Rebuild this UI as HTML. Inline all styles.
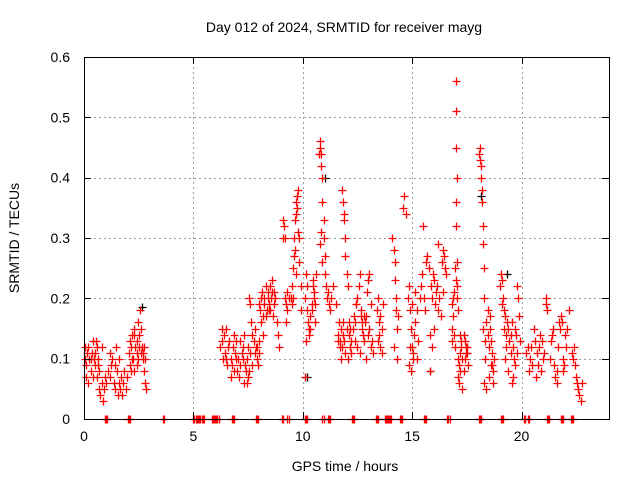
<!DOCTYPE html>
<html><head><meta charset="utf-8"><style>
html,body{margin:0;padding:0;background:#fff}
svg{display:block;font-family:"Liberation Sans",sans-serif}
</style></head><body>
<svg id="chart" width="640" height="480" viewBox="0 0 640 480" xmlns="http://www.w3.org/2000/svg">
<text x="344" y="32" font-size="14" text-anchor="middle">Day 012 of 2024, SRMTID for receiver mayg</text>
<text transform="translate(19,238) rotate(-90)" font-size="14" text-anchor="middle">SRMTID / TECUs</text>
<text x="345" y="471" font-size="14" text-anchor="middle">GPS time / hours</text>
<g id="grid"></g>
<g id="black"></g>
<g id="red"></g>
<g id="axes"></g>
</svg>
<script>
const xTicks=[0,5,10,15,20];
const yTicks=[0,0.1,0.2,0.3,0.4,0.5,0.6];
const yTickLabels=["0","0.1","0.2","0.3","0.4","0.5","0.6"];
const redTimes=[
0.05,0.1,0.15,0.2,0.25,0.3,0.35,0.4,0.45,0.5,
0.05,0.1,0.2,0.3,0.4,0.5,0.55,0.6,0.65,0.7,
0.6,0.7,0.75,0.8,0.85,0.9,0.95,1.0,0.65,0.8,
1.1,1.2,1.25,1.3,1.35,1.4,1.45,1.5,1.55,1.6,
1.65,1.7,1.75,1.8,1.85,1.9,1.95,1.2,1.4,1.6,
2.05,2.1,2.15,2.2,2.25,2.3,2.35,2.4,2.45,2.5,
2.1,2.2,2.3,2.4,2.5,2.55,2.6,2.65,2.7,2.75,
2.8,2.85,2.8,2.75,2.3,2.4,2.6,2.7,2.15,2.45,
6.2,6.3,6.35,6.4,6.45,6.5,6.55,6.6,6.65,6.7,
6.75,6.8,6.85,6.9,6.95,6.3,6.5,6.7,6.85,6.95,
7.0,7.05,7.1,7.15,7.2,7.25,7.3,7.35,7.4,7.45,
7.5,7.55,7.6,7.65,7.7,7.75,7.8,7.85,7.9,7.95,
7.15,7.3,7.45,7.5,7.6,7.7,7.8,7.9,7.25,7.55,
8.0,8.05,8.1,8.15,8.2,8.25,8.3,8.35,8.4,8.45,
8.5,8.55,8.6,8.65,8.7,8.75,8.8,8.1,8.3,8.5,
8.0,8.2,8.4,8.6,8.85,8.9,8.0,8.25,8.45,8.7,
9.1,9.15,9.2,9.2,9.25,9.25,9.3,9.35,9.1,9.3,
9.45,9.5,9.55,9.6,9.6,9.65,9.65,9.7,9.7,9.75,
9.75,9.8,9.8,9.85,9.85,9.9,9.5,9.55,9.7,9.9,
10.1,10.15,10.2,10.25,10.3,10.35,10.4,10.45,10.5,10.55,
10.1,10.2,10.3,10.4,10.5,10.6,10.15,10.35,10.45,10.55,
10.75,10.8,10.8,10.85,10.85,10.9,10.9,10.95,10.95,11.0,
10.8,10.9,11.0,11.05,10.85,11.1,11.15,11.2,11.25,11.3,
11.4,11.5,11.6,11.7,11.75,11.8,11.85,11.9,11.95,12.0,
11.8,11.85,11.9,11.9,11.95,11.95,12.0,12.05,12.1,12.15,
11.65,11.75,12.1,12.2,12.2,11.7,12.05,12.15,11.6,11.85,
12.3,12.35,12.4,12.45,12.5,12.55,12.6,12.65,12.7,12.75,
12.8,12.85,12.9,12.95,13.0,13.05,13.1,13.15,13.2,12.5,
12.4,12.6,12.7,12.8,13.0,13.1,12.45,12.9,13.05,12.65,
13.4,13.45,13.5,13.5,13.55,13.6,13.65,13.55,13.45,13.6,
14.1,14.15,14.2,14.2,14.25,14.25,14.3,14.15,14.3,14.35,
14.6,14.65,14.7,14.8,14.85,14.9,14.95,15.0,15.05,15.1,
15.15,15.2,15.25,14.85,14.95,15.05,15.15,15.0,15.2,14.9,
15.35,15.4,15.45,15.5,15.55,15.6,15.65,15.7,15.75,15.8,
15.85,15.9,15.95,16.0,16.05,16.1,16.15,16.2,16.25,16.3,
16.35,16.4,16.45,16.5,16.55,15.8,15.9,16.0,16.2,16.4,
16.8,16.85,16.9,16.95,16.8,16.9,17.0,17.0,17.0,17.05,
17.0,17.0,17.05,17.05,17.1,16.85,16.95,17.05,16.8,17.0,
17.1,17.15,17.2,17.25,17.3,17.35,17.4,17.45,17.5,17.55,
17.15,17.2,17.3,17.4,17.5,17.25,17.35,17.45,17.1,17.2,
18.05,18.1,18.1,18.15,18.15,18.2,18.2,18.25,18.25,18.3,
18.3,18.35,18.4,18.45,18.5,18.55,18.6,18.65,18.7,18.75,
18.3,18.4,18.5,18.6,18.7,18.35,18.45,18.55,18.65,18.25,
19.0,19.05,19.1,19.15,19.2,19.25,19.3,19.35,19.4,19.45,
19.5,19.55,19.6,19.65,19.7,19.75,19.8,19.85,19.9,19.95,
19.1,19.2,19.3,19.4,19.5,19.6,19.7,19.8,19.25,19.55,
20.2,20.3,20.4,20.5,20.6,20.7,20.8,20.9,21.0,21.1,
20.35,20.45,20.55,20.65,20.75,20.85,20.95,21.05,21.1,21.15,
21.3,21.35,21.4,21.45,21.5,21.55,21.6,21.65,21.7,21.75,
21.8,21.85,21.9,21.95,22.0,22.05,22.1,22.15,21.6,21.9,
22.3,22.35,22.4,22.45,22.5,22.55,22.6,22.65,22.7,22.75
];
const redValues=[
0.10,0.09,0.11,0.12,0.10,0.08,0.11,0.13,0.10,0.09,
0.12,0.07,0.06,0.10,0.07,0.11,0.13,0.12,0.10,0.08,
0.07,0.05,0.04,0.06,0.03,0.05,0.07,0.06,0.09,0.12,
0.08,0.07,0.09,0.10,0.06,0.05,0.12,0.08,0.04,0.06,
0.05,0.07,0.04,0.06,0.08,0.05,0.07,0.11,0.09,0.10,
0.11,0.13,0.12,0.14,0.10,0.15,0.12,0.13,0.16,0.14,
0.09,0.10,0.08,0.11,0.12,0.18,0.15,0.12,0.10,0.08,
0.06,0.05,0.10,0.12,0.14,0.09,0.11,0.11,0.08,0.10,
0.12,0.13,0.10,0.14,0.11,0.15,0.09,0.12,0.13,0.10,
0.09,0.12,0.08,0.11,0.13,0.15,0.10,0.07,0.14,0.10,
0.08,0.10,0.07,0.09,0.11,0.12,0.06,0.09,0.08,0.10,
0.12,0.20,0.19,0.16,0.14,0.13,0.11,0.12,0.10,0.09,
0.13,0.14,0.06,0.07,0.11,0.09,0.15,0.12,0.10,0.08,
0.19,0.18,0.20,0.21,0.17,0.19,0.22,0.18,0.20,0.19,
0.18,0.20,0.21,0.17,0.19,0.20,0.16,0.16,0.17,0.22,
0.13,0.14,0.21,0.23,0.14,0.12,0.11,0.20,0.18,0.21,
0.33,0.32,0.30,0.20,0.19,0.16,0.21,0.20,0.30,0.18,
0.20,0.22,0.25,0.27,0.30,0.28,0.33,0.34,0.36,0.35,
0.37,0.38,0.31,0.30,0.26,0.22,0.19,0.20,0.24,0.18,
0.20,0.24,0.18,0.16,0.15,0.17,0.19,0.22,0.20,0.16,
0.07,0.22,0.14,0.18,0.21,0.24,0.13,0.15,0.23,0.19,
0.44,0.46,0.45,0.44,0.42,0.40,0.36,0.33,0.30,0.27,
0.29,0.26,0.24,0.22,0.31,0.20,0.21,0.19,0.18,0.20,
0.22,0.19,0.14,0.13,0.15,0.12,0.14,0.13,0.11,0.15,
0.38,0.36,0.34,0.33,0.30,0.27,0.24,0.22,0.16,0.12,
0.16,0.10,0.14,0.11,0.13,0.12,0.10,0.15,0.13,0.16,
0.15,0.17,0.16,0.19,0.20,0.22,0.24,0.18,0.15,0.14,
0.13,0.16,0.17,0.21,0.23,0.24,0.19,0.13,0.11,0.12,
0.13,0.11,0.16,0.17,0.14,0.12,0.19,0.10,0.15,0.17,
0.18,0.20,0.16,0.14,0.12,0.11,0.19,0.17,0.13,0.15,
0.30,0.28,0.26,0.23,0.20,0.18,0.15,0.12,0.10,0.17,
0.35,0.37,0.34,0.20,0.22,0.18,0.15,0.12,0.10,0.14,
0.16,0.18,0.13,0.09,0.08,0.11,0.21,0.19,0.10,0.12,
0.20,0.22,0.24,0.32,0.20,0.18,0.26,0.27,0.25,0.08,
0.22,0.20,0.24,0.23,0.19,0.21,0.22,0.18,0.20,0.17,
0.26,0.28,0.27,0.25,0.24,0.14,0.12,0.15,0.29,0.21,
0.19,0.20,0.21,0.25,0.15,0.14,0.56,0.51,0.45,0.40,
0.36,0.32,0.26,0.22,0.18,0.17,0.12,0.20,0.13,0.23,
0.07,0.09,0.11,0.12,0.10,0.14,0.13,0.11,0.12,0.09,
0.06,0.08,0.05,0.10,0.11,0.13,0.08,0.12,0.10,0.14,
0.44,0.45,0.43,0.42,0.40,0.38,0.36,0.32,0.29,0.25,
0.20,0.10,0.16,0.14,0.12,0.15,0.09,0.11,0.08,0.10,
0.06,0.05,0.07,0.13,0.06,0.13,0.18,0.17,0.09,0.15,
0.22,0.24,0.23,0.20,0.18,0.17,0.14,0.16,0.15,0.13,
0.14,0.16,0.12,0.10,0.15,0.14,0.11,0.20,0.17,0.13,
0.19,0.15,0.12,0.08,0.11,0.07,0.09,0.22,0.10,0.06,
0.11,0.12,0.10,0.09,0.13,0.11,0.12,0.08,0.10,0.19,
0.08,0.12,0.15,0.07,0.09,0.14,0.13,0.11,0.20,0.18,
0.10,0.13,0.14,0.15,0.09,0.07,0.08,0.12,0.16,0.15,
0.17,0.16,0.10,0.09,0.14,0.12,0.15,0.18,0.06,0.08,
0.11,0.10,0.12,0.09,0.07,0.06,0.05,0.04,0.03,0.06
];
const zeroTimes=[0.95,1.0,1.05,2.0,2.05,2.1,3.6,3.65,5.0,5.05,5.1,5.15,5.2,5.25,5.3,5.4,5.45,5.5,5.85,5.9,5.95,6.0,6.05,6.1,6.15,6.75,6.8,6.85,7.85,7.9,7.95,9.05,9.1,9.3,9.35,10.1,10.15,10.2,10.9,10.95,11.15,11.2,11.25,12.25,12.3,12.35,13.35,13.4,13.45,13.75,13.8,13.85,13.9,13.95,14.0,14.05,14.45,14.5,14.55,15.55,15.6,15.65,16.6,16.65,16.75,18.05,18.1,18.15,19.05,19.1,19.15,20.1,20.15,20.3,20.35,21.15,21.2,21.25,21.8,21.85,21.9,22.25,22.3,22.35];
const blackTimes=[10.2,11.0,15.8,18.15,19.35,2.65];
const blackValues=[0.07,0.40,0.08,0.37,0.24,0.185];

const L=84,R=609,T=57,B=419,XMAX=24,YMAX=0.6;
const NS="http://www.w3.org/2000/svg";
function xs(t){return L+(t/XMAX)*(R-L);}
function ys(v){return B-(v/YMAX)*(B-T);}
function mk(tag,attrs,parent){const e=document.createElementNS(NS,tag);for(const k in attrs)e.setAttribute(k,attrs[k]);parent.appendChild(e);return e;}
const grid=document.getElementById('grid'),axes=document.getElementById('axes');
xTicks.forEach(function(t){
  const x=Math.round(xs(t))+0.5;
  if(t>0){const g=mk('line',{x1:x,y1:T,x2:x,y2:B,stroke:'#a0a0a0','stroke-dasharray':'2,3','stroke-width':1},grid);
  
  }
  mk('line',{x1:x,y1:B,x2:x,y2:B-7,stroke:'#000'},axes);
  mk('line',{x1:x,y1:T,x2:x,y2:T+7,stroke:'#000'},axes);
  const lb=mk('text',{x:xs(t),y:B+22,'font-size':14,'text-anchor':'middle'},axes);
  lb.textContent=String(t);
  
  
});
yTicks.forEach(function(v,i){
  const y=Math.round(ys(v))+0.5;
  if(v>0&&v<YMAX){const g=mk('line',{x1:L,y1:y,x2:R,y2:y,stroke:'#a0a0a0','stroke-dasharray':'2,3','stroke-width':1},grid);
  
  }
  mk('line',{x1:L,y1:y,x2:L+7,y2:y,stroke:'#000'},axes);
  mk('line',{x1:R,y1:y,x2:R-7,y2:y,stroke:'#000'},axes);
  const lb=mk('text',{x:L-14,y:ys(v)+5,'font-size':14,'text-anchor':'end'},axes);
  lb.textContent=yTickLabels[i];
  
  
});
const fr=mk('rect',{x:L+0.5,y:T+0.5,width:R-L,height:B-T,fill:'none',stroke:'#000'},axes);


function plus(parent,t,v,color){
  const x=Math.round(xs(t))+0.5,y=Math.round(ys(v))+0.5;
  return mk('path',{d:'M'+(x-4)+' '+y+'H'+(x+4)+'M'+x+' '+(y-4)+'V'+(y+4),stroke:color,'stroke-width':1.3,fill:'none'},parent);
}
const blk=document.getElementById('black'),red=document.getElementById('red');
blackTimes.forEach(function(t,i){
  const p=plus(blk,t,blackValues[i],'#000');
  
  
});
redTimes.forEach(function(t,i){
  const p=plus(red,t,redValues[i],'#ff0000');
  
  
});
zeroTimes.forEach(function(t){
  const p=plus(red,t,0,'#ff0000');
  
  
});
</script>
</body></html>
